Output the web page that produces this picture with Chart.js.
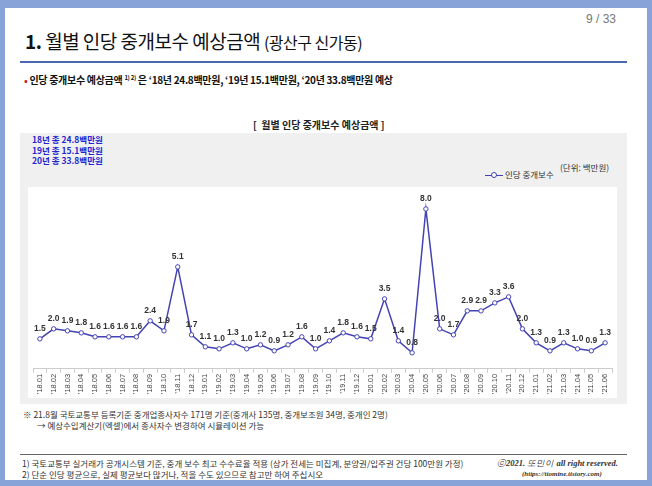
<!DOCTYPE html>
<html>
<head>
<meta charset="utf-8">
<script src="https://cdn.jsdelivr.net/npm/chart.js@4/dist/chart.umd.min.js"></script>
<style>
    body { margin: 0; width: 652px; height: 486px; background: #88a3d7; font-family: "Noto Sans CJK KR", sans-serif; overflow: hidden; }
    .slide { position: absolute; left: 5px; top: 8px; width: 642px; height: 472px; background: #fff; }
    .abs { position: absolute; white-space: nowrap; }
    .panel { position: absolute; left: 20px; top: 133px; width: 607px; height: 271px; background: #f0f0f0; }
    #box { position: absolute; left: 28px; top: 187px; width: 589px; height: 211px; background: #fff; }
</style>
</head>
<body>
<div class="slide"></div>
<div class="abs" style="left:586px;top:12px;font-size:12px;color:#777;font-family:'Liberation Sans';">9 / 33</div>
<div class="abs" style="left:25px;top:27px;font-size:19px;color:#111;letter-spacing:-0.5px;"><b>1.</b> 월별 인당 중개보수 예상금액 <span style="font-size:16px;">(광산구 신가동)</span></div>
<div class="abs" style="left:20px;top:61px;width:607px;height:2px;background:#4a68b0;"></div>
<div class="abs" style="left:24px;top:72px;font-size:10px;color:#111;font-weight:bold;letter-spacing:-0.3px;"><span style="color:#d02020;">•</span> 인당 중개보수 예상금액 <sup style="font-size:6px;">1) 2)</sup> 은 ‘18년 24.8백만원, ‘19년 15.1백만원, ‘20년 33.8백만원 예상</div>

<div class="panel"></div>
<div class="abs" style="left:253px;top:117px;font-size:10px;font-weight:bold;color:#222;">[ &nbsp;월별 인당 중개보수 예상금액 ]</div>
<div class="abs" style="left:32px;top:134px;font-size:8.5px;line-height:10.5px;font-weight:bold;color:#2424d0;">18년 총 24.8백만원<br>19년 총 15.1백만원<br>20년 총 33.8백만원</div>
<div class="abs" style="left:485px;top:168px;font-size:8.5px;color:#333;"><span style="display:inline-block;width:18px;height:1.5px;background:#4040b0;vertical-align:middle;position:relative;"><span style="position:absolute;left:6px;top:-2.5px;width:4px;height:4px;border:1px solid #4040b0;border-radius:50%;background:#fff;"></span></span> 인당 중개보수</div>
<div class="abs" style="left:560px;top:161px;font-size:8.5px;color:#333;">(단위: 백만원)</div>

<div id="box"><canvas id="grafico"></canvas></div>

<div class="abs" style="left:23px;top:408px;font-size:8.5px;color:#333;">※ 21.8월 국토교통부 등록기준 중개업종사자수 171명 기준(중개사 135명, 중개보조원 34명, 중개인 2명)</div>
<div class="abs" style="left:37px;top:419px;font-size:8.5px;color:#333;">→ 예상수입계산기(엑셀)에서 종사자수 변경하여 시뮬레이션 가능</div>
<div class="abs" style="left:20px;top:454px;width:607px;height:1px;background:#666;"></div>
<div class="abs" style="left:22px;top:457px;font-size:8.5px;color:#333;">1) 국토교통부 실거래가 공개시스템 기준, 중개 보수 최고 수수료율 적용 (상가 전세는 미집계, 분양권/입주권 건당 100만원 가정)</div>
<div class="abs" style="left:22px;top:468px;font-size:8.5px;color:#333;">2) 단순 인당 평균으로, 실제 평균보다 많거나, 적을 수도 있으므로 참고만 하여 주십시오</div>
<div class="abs" style="left:497px;top:458px;font-size:8.5px;color:#333;font-style:italic;font-family:'Liberation Serif';">ⓒ<b>2021.</b> 또민이 <b>all right reserved.</b></div>
<div class="abs" style="left:522px;top:470px;font-size:7px;color:#333;font-style:italic;font-weight:bold;font-family:'Liberation Serif';">(https://ttomine.tistory.com)</div>

<script>
const meses = ["'18.01", "'18.02", "'18.03", "'18.04", "'18.05", "'18.06", "'18.07", "'18.08", "'18.09", "'18.10", "'18.11", "'18.12",
    "'19.01", "'19.02", "'19.03", "'19.04", "'19.05", "'19.06", "'19.07", "'19.08", "'19.09", "'19.10", "'19.11", "'19.12",
    "'20.01", "'20.02", "'20.03", "'20.04", "'20.05", "'20.06", "'20.07", "'20.08", "'20.09", "'20.10", "'20.11", "'20.12",
    "'21.01", "'21.02", "'21.03", "'21.04", "'21.05", "'21.06"];
const montos = [1.5, 2.0, 1.9, 1.8, 1.6, 1.6, 1.6, 1.6, 2.4, 1.9, 5.1, 1.7,
    1.1, 1.0, 1.3, 1.0, 1.2, 0.9, 1.2, 1.6, 1.0, 1.4, 1.8, 1.6,
    1.5, 3.5, 1.4, 0.8, 8.0, 2.0, 1.7, 2.9, 2.9, 3.3, 3.6, 2.0,
    1.3, 0.9, 1.3, 1.0, 0.9, 1.3];
const serie = "인당 중개보수";

// etiquetas de valor encima de cada punto
const etiquetas = {
    id: "etiquetas",
    afterDatasetsDraw(chart) {
        const c = chart.ctx;
        const meta = chart.getDatasetMeta(0);
        c.save();
        c.font = "bold 8.5px 'Liberation Sans'";
        c.fillStyle = "#333";
        c.textAlign = "center";
        c.textBaseline = "bottom";
        meta.data.forEach(function (p, i) {
            c.fillText(montos[i].toFixed(1), p.x, p.y - 6);
        });
        c.restore();
    }
};

const ctx = document.getElementById("grafico");
const miGrafico = new Chart(ctx, {
    type: "line",
    data: {
        labels: meses,
        datasets: [
            {
                label: serie,
                data: montos,
                borderColor: "#4343b3",
                borderWidth: 1.5,
                pointBackgroundColor: "#fff",
                pointBorderColor: "#4343b3",
                pointBorderWidth: 1,
                pointRadius: 2.2,
                tension: 0,
            },
        ],
    },
    options: {
        responsive: true,
        maintainAspectRatio: false,
        animation: false,
        layout: { padding: { top: 0, left: 0, right: 0, bottom: 3 } },
        plugins: { legend: { display: false }, tooltip: { enabled: false } },
        scales: {
            x: {
                offset: true,
                grid: { offset: true, drawOnChartArea: false, tickLength: 4, color: "#ccc" },
                border: { color: "#ccc" },
                ticks: {
                    minRotation: 90,
                    maxRotation: 90,
                    autoSkip: false,
                    padding: 1,
                    color: "#444",
                    font: { family: "Liberation Sans", size: 7.5 },
                },
            },
            y: { display: false, min: 0, max: 8.85 },
        },
    },
    plugins: [etiquetas],
});
</script>
</body>
</html>
